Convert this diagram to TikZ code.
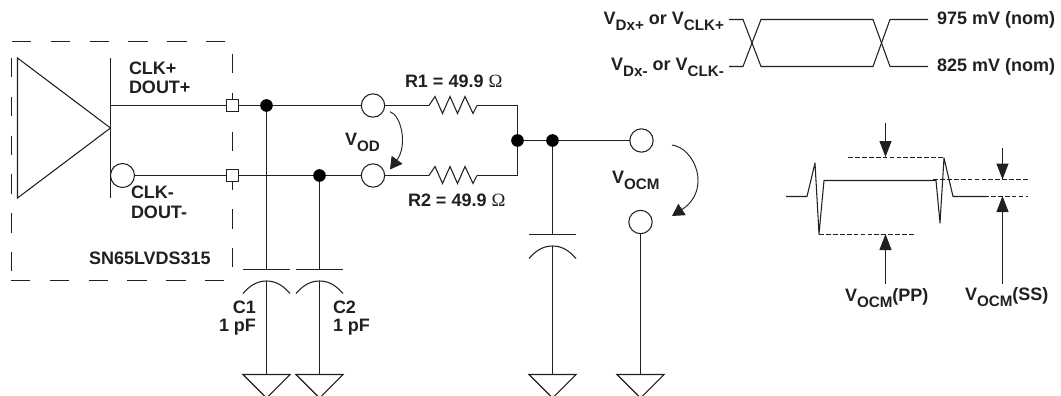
\documentclass[tikz,border=0pt]{standalone}
\usepackage{fontspec}
\setmainfont{Liberation Sans}[BoldFont={Liberation Sans Bold}]
\newfontfamily\serifom{Liberation Serif}
\usetikzlibrary{arrows.meta}
\definecolor{ink}{HTML}{231F20}
\newcommand{\lo}[1]{\raisebox{-.36em}{\fontsize{11.4}{11.4}\selectfont #1}}
\newcommand{\ohm}{{\fontsize{14}{14}\serifom\mdseries\symbol{"03A9}}}
\tikzset{
  lbl/.style={inner sep=0pt,outer sep=0pt,text=ink,font=\fontsize{13.5}{13.5}\selectfont\bfseries},
  termc/.style={circle,draw=ink,fill=white,minimum size=17.5pt,inner sep=0pt,outer sep=0pt},
  junc/.style={circle,fill=black,minimum size=9.5pt,inner sep=0pt,outer sep=0pt},
  pin/.style={rectangle,draw=ink,fill=white,minimum size=9pt,inner sep=0pt,outer sep=0pt},
  boxdash/.style={dash pattern=on 14.5pt off 14.6pt},
  thin dash/.style={line width=0.65pt,dash pattern=on 3.6pt off 1.6pt},
  bigtip/.style={-{Triangle[length=12pt,width=9pt]}},
  curvetip/.style={-{Triangle[length=9pt,width=10pt]}}
}
\newcommand{\capat}[3]{% name, x, plate y
  \coordinate (#1p) at (#2,#3);
  \coordinate (#1a) at (#2,#3+11.5);
  \draw (#2-23.5,#3) -- (#2+23.5,#3);
  \draw (#2-23.5,#3+24) .. controls (#2-15,#3+14) and (#2-7,#3+11.5) .. (#1a)
        .. controls (#2+7,#3+11.5) and (#2+15,#3+14) .. (#2+23.5,#3+24);
}
\newcommand{\gndat}[2]{% name, x
  \coordinate (#1) at (#2,374.5);
  \draw (#2-23.5,374.5) -- (#2+23.5,374.5) -- (#2,398) -- cycle;
}
\begin{document}
\begin{tikzpicture}[x=0.75pt,y=-0.75pt,line width=0.8pt,color=ink]
\useasboundingbox (0,0) rectangle (1061,396);
% dashed device outline
\draw[boxdash] (12,41.5) -- (227,41.5);
\draw[boxdash] (11.5,58) -- (11.5,273);
\draw[boxdash] (11,280.5) -- (226,280.5);
\draw[boxdash] (232.5,54) -- (232.5,269);
% driver
\draw (17.5,58) -- (17.5,198) -- (110.5,128) -- cycle;
\draw (110.5,58) -- (110.5,198);
\coordinate (drvP) at (110.5,105.5);
% terminals
\node[termc,minimum size=18pt] (bub) at (122.5,175.5) {};
\node[pin] (s1) at (232.5,105.5) {};
\node[pin] (s2) at (232.5,175.5) {};
\node[junc] (d1) at (266.5,105.5) {};
\node[junc] (d2) at (319.5,175.5) {};
\node[termc] (t1) at (373,105.5) {};
\node[termc] (t2) at (373,175.5) {};
\node[junc] (d3) at (517.5,140.5) {};
\node[junc] (d4) at (552.5,140.5) {};
\node[termc] (t3) at (641.5,140.5) {};
\node[termc] (t4) at (640.5,222) {};
\coordinate (r1a) at (429,105.5); \coordinate (r1b) at (477,105.5);
\coordinate (r2a) at (429,175.5); \coordinate (r2b) at (477,175.5);
\coordinate (jt) at (517.5,105.5); \coordinate (jb) at (517.5,175.5);
% wires
\draw (drvP) -- (s1);
\draw (s1) -- (d1);
\draw (d1) -- (t1);
\draw (bub) -- (s2);
\draw (s2) -- (d2);
\draw (d2) -- (t2);
\draw (t1) -- (r1a);
\draw (t2) -- (r2a);
\draw (r1a) -- ++(6,-9) -- ++(7.5,17) -- ++(7.5,-17) -- ++(7.5,17) -- ++(7.5,-17) -- ++(8,17) -- (r1b);
\draw (r2a) -- ++(6,-9) -- ++(7.5,17) -- ++(7.5,-17) -- ++(7.5,17) -- ++(7.5,-17) -- ++(8,17) -- (r2b);
\draw (r1b) -- (jt) -- (d3);
\draw (r2b) -- (jb) -- (d3);
\draw (d3) -- (d4);
\draw (d4) -- (t3);
% capacitors and grounds
\capat{c1}{266.5}{269.5}
\capat{c2}{319.5}{269.5}
\capat{c3}{552.5}{234.5}
\gndat{g1}{266.5}
\gndat{g2}{319.5}
\gndat{g3}{552.5}
\gndat{g4}{640.5}
\draw (d1) -- (c1p);
\draw (d2) -- (c2p);
\draw (d4) -- (c3p);
\draw (c1a) -- (g1);
\draw (c2a) -- (g2);
\draw (c3a) -- (g3);
\draw (t4) -- (g4);
% voltage arrows
\coordinate (vodA) at (390,111.7); \coordinate (vodB) at (390,169.5);
\coordinate (ocmA) at (672,145); \coordinate (ocmB) at (672,216);
\draw[curvetip,line width=0.7pt] (vodA) .. controls (401,115) and (408,145) .. (vodB);
\draw[curvetip,line width=0.7pt] (ocmA) .. controls (695,148) and (712,190) .. (ocmB);
% labels, left part
\node[lbl,anchor=west] (l1) at (129,68) {CLK+};
\node[lbl,anchor=west] (l2) at (129,87.5) {DOUT+};
\node[lbl,anchor=west] (l3) at (131,192.5) {CLK-};
\node[lbl,anchor=west] (l4) at (131,212) {DOUT-};
\node[lbl,anchor=west] (l5) at (89,258) {SN65LVDS315};
\node[lbl,anchor=east] (l6) at (256,307) {C1};
\node[lbl,anchor=east] (l7) at (256,327) {1 pF};
\node[lbl,anchor=west] (l8) at (333,307) {C2};
\node[lbl,anchor=west] (l9) at (333,327) {1 pF};
\node[lbl,anchor=west] (l10) at (405,81) {R1 = 49.9 \ohm};
\node[lbl,anchor=west] (l11) at (408,200) {R2 = 49.9 \ohm};
\node[lbl,anchor=base west] (l12) at (345,145) {V\lo{OD}};
\node[lbl,anchor=base west] (l13) at (612,183) {V\lo{OCM}};
% differential waveform
\coordinate (wa) at (729,19.5); \coordinate (wb) at (729,66.5);
\coordinate (wc) at (928,19.5); \coordinate (wd) at (928,66.5);
\draw[line join=round] (wa) -- (743,19.5) -- (761,66.5) -- (873,66.5) -- (890,19.5) -- (wc);
\draw[line join=round] (wb) -- (743,66.5) -- (761,19.5) -- (873,19.5) -- (890,66.5) -- (wd);
\node[lbl,anchor=base east] (w1) at (724,24.5) {V\lo{Dx+} or V\lo{CLK+}};
\node[lbl,anchor=base east] (w2) at (724,70.5) {V\lo{Dx-} or V\lo{CLK-}};
\node[lbl,anchor=base west] (w3) at (937,24) {975 mV (nom)};
\node[lbl,anchor=base west] (w4) at (937,71) {825 mV (nom)};
% common mode waveform
\draw[line join=round] (786,196.5) -- (807,196.5) -- (815,163) -- (819,234) -- (824,180.5) -- (936,180.5) -- (940,223) -- (944,158) -- (953,196.5) -- (987,196.5);
\coordinate (h1a) at (848,157.5); \coordinate (h1b) at (944,157.5);
\coordinate (h2a) at (819,234.5); \coordinate (h2b) at (916,234.5);
\coordinate (h3a) at (933,179.5); \coordinate (h3b) at (1028,179.5);
\coordinate (h4a) at (977,196.5); \coordinate (h4b) at (1028,196.5);
\draw[thin dash] (h1a) -- (h1b);
\draw[thin dash] (h2a) -- (h2b);
\draw[thin dash] (h3a) -- (h3b);
\draw[thin dash] (h4a) -- (h4b);
\coordinate (a1) at (885.5,123); \coordinate (a1t) at (885.5,157);
\coordinate (a2) at (885.5,284); \coordinate (a2t) at (885.5,234);
\coordinate (a3) at (1002.5,148); \coordinate (a3t) at (1002.5,179.5);
\coordinate (a4) at (1002.5,284); \coordinate (a4t) at (1002.5,196);
\draw[bigtip] (a1) -- (a1t);
\draw[bigtip] (a2) -- (a2t);
\draw[bigtip] (a3) -- (a3t);
\draw[bigtip] (a4) -- (a4t);
\node[lbl,anchor=base west] (p1) at (845,301) {V\lo{OCM}(PP)};
\node[lbl,anchor=base west] (p2) at (965,300) {V\lo{OCM}(SS)};
\end{tikzpicture}
\end{document}
